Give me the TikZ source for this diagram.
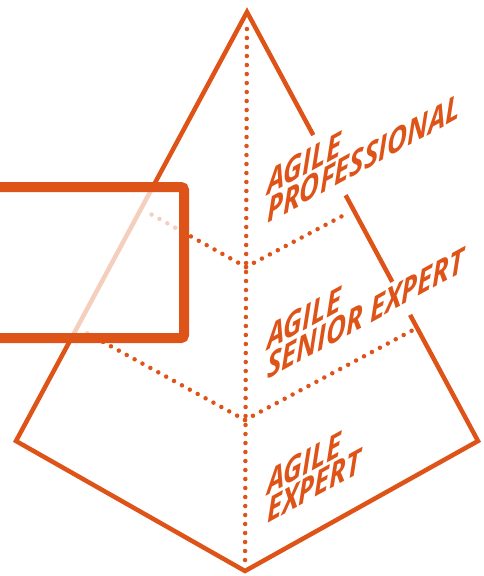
\documentclass[tikz,border=0pt]{standalone}
\usepackage{fontspec}
\setsansfont{Open Sans}
\usetikzlibrary{calc}
\definecolor{pyrOrange}{RGB}{222,83,24}

\begin{document}
\begin{tikzpicture}[
	x=1pt,
	y=-1pt,
	color=pyrOrange]

\tikzstyle{edge}=[line width=4.5pt, line join=miter]
\tikzstyle{dotted edge}=[line width=4.5pt, line cap=round, dash pattern=on 0pt off 9pt]
\tikzstyle{callout box}=[line width=10pt, rounded corners=3pt, fill=white, fill opacity=0.72]
\tikzstyle{level label}=[anchor=base west, inner sep=0pt, text=pyrOrange,
	font=\sffamily\bfseries\itshape\fontsize{34}{34}\selectfont,
	cm={\LabelScale, \LabelRise, 0, 1, (0,0)}]

\def\LabelScale{0.81}
\def\LabelSlant{0.55}
\pgfmathsetmacro{\LabelRise}{\LabelScale * \LabelSlant}

\useasboundingbox (0,0) rectangle (483,576);

% corners of the pyramid
\coordinate (apex) at (247,12);
\coordinate (leftCorner) at (16,441);
\coordinate (bottomTip) at (245,571);
\coordinate (rightCorner) at (478,441);

% ends of the level lines
\coordinate (levelOneL) at (147,212);
\coordinate (levelOneM) at (246,267);
\coordinate (levelOneR) at (348,213);
\coordinate (levelTwoL) at (85,332);
\coordinate (levelTwoM) at (245,420);
\coordinate (levelTwoR) at (413,330);

% Pyramid outline, right edge broken by the labels
\draw[edge]
	($(apex)!0.706!(rightCorner)$) -- (rightCorner) -- (bottomTip)
	-- (leftCorner) -- (apex) -- ($(apex)!0.287!(rightCorner)$);
\draw[edge]
	($(apex)!0.427!(rightCorner)$) -- ($(apex)!0.629!(rightCorner)$);

% front edge
\draw[dotted edge, shorten <=17pt, shorten >=4pt] (apex) -- (bottomTip);

% level lines
\draw[dotted edge] (levelOneM) -- (levelOneL);
\draw[dotted edge] (levelOneM) -- (levelOneR);
\draw[dotted edge] (levelTwoM) -- (levelTwoL);
\draw[dotted edge] (levelTwoM) -- (levelTwoR);

% box over the left face
\draw[callout box] (-10,187) rectangle (184,338);

% Labels
\node[level label] (proAgile) at (267,196) {AGILE};
\node[level label] (proTitle) at (267,224) {PROFESSIONAL};
\node[level label] (seniorAgile) at (267,351) {AGILE};
\node[level label] (seniorTitle) at (267,380) {SENIOR EXPERT};
\node[level label] (expertAgile) at (267,496) {AGILE};
\node[level label] (expertTitle) at (267,524) {EXPERT};

\end{tikzpicture}
\end{document}
